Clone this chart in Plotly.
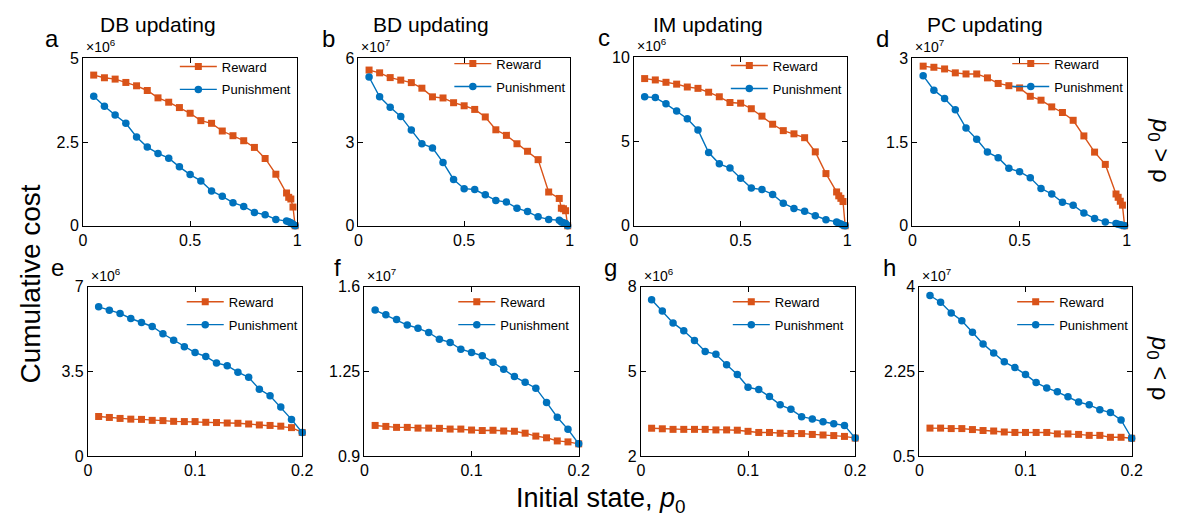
import plotly.graph_objects as go

W, H = 1195, 531

# ---------------- data ----------------
columns = ["DB updating", "BD updating", "IM updating", "PC updating"]
panel_letters = ["a", "b", "c", "d", "e", "f", "g", "h"]
exponents = [6, 7, 6, 7, 6, 7, 6, 7]

x_top = [0.05, 0.10, 0.15, 0.20, 0.25, 0.30, 0.35, 0.40, 0.45, 0.50, 0.55, 0.60,
         0.65, 0.70, 0.75, 0.80, 0.85, 0.90, 0.95, 0.96, 0.97, 0.98, 0.99]
x_bot = [0.01, 0.02, 0.03, 0.04, 0.05, 0.06, 0.07, 0.08, 0.09, 0.10,
         0.11, 0.12, 0.13, 0.14, 0.15, 0.16, 0.17, 0.18, 0.19, 0.20]

reward_a = [4.50, 4.42, 4.38, 4.28, 4.18, 4.04, 3.82, 3.69, 3.53, 3.36, 3.14, 3.06,
            2.83, 2.69, 2.54, 2.34, 2.01, 1.54, 0.98, 0.85, 0.80, 0.56, 0]
punish_a = [3.87, 3.57, 3.31, 3.06, 2.65, 2.35, 2.16, 2.02, 1.76, 1.53, 1.34, 1.04,
            0.88, 0.69, 0.58, 0.40, 0.33, 0.19, 0.14, 0.12, 0.09, 0.05, 0]
reward_b = [5.58, 5.48, 5.31, 5.22, 5.13, 4.93, 4.62, 4.58, 4.41, 4.30, 4.17, 3.90,
            3.44, 3.24, 2.94, 2.67, 2.37, 1.21, 0.98, 0.63, 0.61, 0.54, 0]
punish_b = [5.33, 4.62, 4.25, 3.92, 3.43, 2.94, 2.79, 2.27, 1.66, 1.33, 1.30, 1.11,
            0.91, 0.85, 0.63, 0.51, 0.32, 0.23, 0.20, 0.14, 0.11, 0.08, 0]
reward_c = [8.74, 8.66, 8.52, 8.41, 8.24, 8.16, 7.93, 7.66, 7.32, 7.28, 6.95, 6.51,
            6.03, 5.65, 5.46, 5.23, 4.39, 3.10, 2.01, 1.78, 1.63, 1.44, 0]
punish_c = [7.66, 7.61, 7.24, 6.82, 6.36, 5.69, 4.35, 3.68, 3.43, 2.82, 2.24, 2.15,
            1.86, 1.34, 1.03, 0.86, 0.59, 0.36, 0.23, 0.15, 0.10, 0.04, 0]
reward_d = [2.86, 2.84, 2.81, 2.74, 2.72, 2.72, 2.65, 2.55, 2.51, 2.47, 2.32, 2.25,
            2.13, 2.03, 1.89, 1.61, 1.32, 1.10, 0.57, 0.51, 0.44, 0.37, 0]
punish_d = [2.69, 2.43, 2.28, 2.08, 1.75, 1.55, 1.32, 1.22, 1.03, 0.97, 0.86, 0.67,
            0.57, 0.42, 0.37, 0.23, 0.13, 0.07, 0.04, 0.03, 0.02, 0.01, 0]

reward_e = [1.64, 1.60, 1.56, 1.53, 1.52, 1.48, 1.47, 1.44, 1.43, 1.43,
            1.40, 1.39, 1.37, 1.36, 1.33, 1.29, 1.27, 1.24, 1.18, 0.98]
punish_e = [6.17, 6.03, 5.90, 5.69, 5.52, 5.36, 5.06, 4.79, 4.52, 4.28,
            4.12, 3.85, 3.74, 3.47, 3.26, 2.77, 2.50, 2.03, 1.52, 0.98]
reward_f = [1.027, 1.023, 1.019, 1.019, 1.016, 1.016, 1.015, 1.012, 1.012, 1.008,
            1.006, 1.007, 1.004, 1.003, 0.995, 0.983, 0.976, 0.963, 0.959, 0.951]
punish_f = [1.504, 1.484, 1.465, 1.442, 1.429, 1.411, 1.383, 1.370, 1.342, 1.328,
            1.315, 1.288, 1.259, 1.229, 1.205, 1.181, 1.122, 1.061, 1.011, 0.951]
reward_g = [2.99, 2.97, 2.95, 2.95, 2.95, 2.95, 2.93, 2.93, 2.92, 2.88,
            2.84, 2.84, 2.81, 2.80, 2.80, 2.77, 2.75, 2.73, 2.70, 2.64]
punish_g = [7.54, 7.14, 6.72, 6.44, 6.10, 5.71, 5.61, 5.24, 4.89, 4.44,
            4.36, 4.11, 3.82, 3.66, 3.40, 3.32, 3.22, 3.15, 3.09, 2.64]
reward_h = [1.08, 1.08, 1.07, 1.07, 1.05, 1.03, 1.02, 1.00, 0.99, 0.99,
            0.99, 0.99, 0.96, 0.96, 0.95, 0.93, 0.93, 0.89, 0.89, 0.87]
punish_h = [3.82, 3.68, 3.46, 3.30, 3.06, 2.82, 2.63, 2.45, 2.33, 2.19,
            2.02, 1.91, 1.83, 1.73, 1.62, 1.56, 1.46, 1.40, 1.25, 0.87]

x_ticks_top = [0, 0.5, 1]
x_ticklabels_top = ["0", "0.5", "1"]
x_ticks_bot = [0, 0.1, 0.2]
x_ticklabels_bot = ["0", "0.1", "0.2"]

y_ticks = [[0, 2.5, 5], [0, 3, 6], [0, 5, 10], [0, 1.5, 3],
           [0, 3.5, 7], [0.9, 1.25, 1.6], [2, 5, 8], [0.5, 2.25, 4]]
y_ticklabels = [["0", "2.5", "5"], ["0", "3", "6"], ["0", "5", "10"], ["0", "1.5", "3"],
                ["0", "3.5", "7"], ["0.9", "1.25", "1.6"], ["2", "5", "8"], ["0.5", "2.25", "4"]]

rewards = [reward_a, reward_b, reward_c, reward_d, reward_e, reward_f, reward_g, reward_h]
punishments = [punish_a, punish_b, punish_c, punish_d, punish_e, punish_f, punish_g, punish_h]

# ---------------- layout geometry (pixels) ----------------
boxes = [(80, 297, 52, 225), (359, 573, 52, 225), (638, 854, 51, 225), (920, 1137, 52, 225),
         (85, 302, 288, 463), (365, 582, 288, 463), (645, 862, 288, 463), (927, 1142, 288, 463)]
legend_px = [(173, 45), (451, 42), (731, 44), (1016, 42),
             (180, 288), (455, 288), (733, 288), (1021, 288)]

REWARD_C = "#D95319"
PUNISH_C = "#0072BD"
FONT = "Liberation Sans, Arial, sans-serif"

def px2x(p):
    return p / W

def px2y(p):
    return 1 - p / H

fig = go.Figure()
layout = dict(width=W, height=H, margin=dict(l=0, r=0, t=0, b=0),
              paper_bgcolor="white", plot_bgcolor="white", showlegend=True,
              font=dict(family=FONT, color="black"))
annotations = []

for i in range(8):
    n = "" if i == 0 else str(i + 1)
    xa, ya = "x" + n, "y" + n
    leg = "legend" + n
    xs = x_top if i < 4 else x_bot
    fig.add_trace(go.Scatter(x=xs, y=rewards[i], xaxis=xa, yaxis=ya, name="Reward",
                             mode="lines+markers", legend=leg, legendgroup="r%d" % i,
                             line=dict(color=REWARD_C, width=1.4),
                             marker=dict(symbol="square", size=7, color=REWARD_C),
                             cliponaxis=False))
    fig.add_trace(go.Scatter(x=xs, y=punishments[i], xaxis=xa, yaxis=ya, name="Punishment",
                             mode="lines+markers", legend=leg, legendgroup="p%d" % i,
                             line=dict(color=PUNISH_C, width=1.4),
                             marker=dict(symbol="circle", size=7.5, color=PUNISH_C),
                             cliponaxis=False))
    l, r, t, b = boxes[i]
    yt = y_ticks[i]
    common = dict(showline=True, linecolor="black", linewidth=1, mirror="ticks",
                  ticks="inside", ticklen=5, tickcolor="black", showgrid=False,
                  zeroline=False, tickfont=dict(size=16, family=FONT, color="black"))
    layout["xaxis" + n] = dict(domain=[px2x(l), px2x(r)], anchor=ya,
                               range=[0, 1] if i < 4 else [0, 0.2],
                               tickvals=x_ticks_top if i < 4 else x_ticks_bot,
                               ticktext=x_ticklabels_top if i < 4 else x_ticklabels_bot,
                               **common)
    layout["yaxis" + n] = dict(domain=[px2y(b), px2y(t)], anchor=xa,
                               range=[yt[0], yt[-1]], tickvals=yt, ticktext=y_ticklabels[i],
                               **common)
    lx, ly = legend_px[i]
    layout[leg] = dict(x=px2x(lx), y=px2y(ly), xanchor="left", yanchor="top",
                       bgcolor="rgba(0,0,0,0)", borderwidth=0, tracegroupgap=3,
                       itemwidth=37,
                       font=dict(size=13, family=FONT, color="black"))
    # panel letter
    annotations.append(dict(text=panel_letters[i], x=px2x(l - 22), y=px2y(t - 4),
                            xref="paper", yref="paper", xanchor="right", yanchor="bottom",
                            showarrow=False, font=dict(size=24, family=FONT, color="black")))
    # exponent label
    annotations.append(dict(text="×10<sup>%d</sup>" % exponents[i], x=px2x(l + 1), y=px2y(t - 1),
                            xref="paper", yref="paper", xanchor="left", yanchor="bottom",
                            showarrow=False, font=dict(size=14, family=FONT, color="black")))

col_centers = [156, 432, 713, 993]
for c, name in zip(col_centers, columns):
    annotations.append(dict(text=name, x=px2x(c), y=px2y(17), xref="paper", yref="paper",
                            xanchor="center", yanchor="middle", showarrow=False,
                            font=dict(size=21, family=FONT, color="black")))

annotations.append(dict(text="Cumulative cost", x=px2x(27), y=px2y(285), xref="paper",
                        yref="paper", xanchor="center", yanchor="middle", textangle=-90,
                        showarrow=False, font=dict(size=28, family=FONT, color="black")))
annotations.append(dict(text="Initial state, <i>p</i><sub>0</sub>", x=px2x(605), y=px2y(508),
                        xref="paper", yref="paper", xanchor="center", yanchor="middle",
                        showarrow=False, font=dict(size=27, family=FONT, color="black")))
annotations.append(dict(text="<i>p</i><sub>0</sub> > ρ", x=px2x(1170), y=px2y(147),
                        xref="paper", yref="paper", xanchor="center", yanchor="middle",
                        textangle=90, showarrow=False,
                        font=dict(size=24, family=FONT, color="black")))
annotations.append(dict(text="<i>p</i><sub>0</sub> < ρ", x=px2x(1170), y=px2y(372),
                        xref="paper", yref="paper", xanchor="center", yanchor="middle",
                        textangle=90, showarrow=False,
                        font=dict(size=24, family=FONT, color="black")))

layout["annotations"] = annotations
fig.update_layout(**layout)
fig.write_html("out.html", config={"displayModeBar": False},
               post_script="document.body.style.margin='0px';")
